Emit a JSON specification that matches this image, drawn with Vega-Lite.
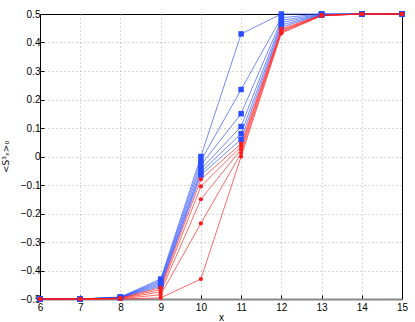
{
  "$schema": "https://vega.github.io/schema/vega-lite/v6.json",
  "width": 362,
  "height": 285,
  "autosize": "none",
  "padding": {"left": 40, "top": 14, "right": 13, "bottom": 23},
  "config": {
    "font": "Liberation Sans",
    "view": {"stroke": "black", "strokeWidth": 1},
    "axis": {
      "labelFont": "Liberation Sans",
      "titleFont": "Liberation Sans",
      "labelFontSize": 10,
      "titleFontSize": 10,
      "titleFontWeight": "normal",
      "labelColor": "#000",
      "titleColor": "#000",
      "gridColor": "#b0b0b0",
      "gridDash": [1, 3],
      "gridWidth": 1,
      "tickColor": "#000",
      "tickSize": -4,
      "domainColor": "#000"
    }
  },
  "data": {
    "values": [
      {"s": "B1", "f": "blue", "x": 6, "y": -0.5}, {"s": "B1", "f": "blue", "x": 7, "y": -0.5}, {"s": "B1", "f": "blue", "x": 8, "y": -0.493}, {"s": "B1", "f": "blue", "x": 9, "y": -0.43}, {"s": "B1", "f": "blue", "x": 10, "y": 0.0}, {"s": "B1", "f": "blue", "x": 11, "y": 0.43}, {"s": "B1", "f": "blue", "x": 12, "y": 0.5}, {"s": "B1", "f": "blue", "x": 13, "y": 0.5}, {"s": "B1", "f": "blue", "x": 14, "y": 0.5}, {"s": "B1", "f": "blue", "x": 15, "y": 0.5},
      {"s": "B2", "f": "blue", "x": 6, "y": -0.5}, {"s": "B2", "f": "blue", "x": 7, "y": -0.5}, {"s": "B2", "f": "blue", "x": 8, "y": -0.494}, {"s": "B2", "f": "blue", "x": 9, "y": -0.435}, {"s": "B2", "f": "blue", "x": 10, "y": -0.015}, {"s": "B2", "f": "blue", "x": 11, "y": 0.235}, {"s": "B2", "f": "blue", "x": 12, "y": 0.487}, {"s": "B2", "f": "blue", "x": 13, "y": 0.5}, {"s": "B2", "f": "blue", "x": 14, "y": 0.5}, {"s": "B2", "f": "blue", "x": 15, "y": 0.5},
      {"s": "B3", "f": "blue", "x": 6, "y": -0.5}, {"s": "B3", "f": "blue", "x": 7, "y": -0.5}, {"s": "B3", "f": "blue", "x": 8, "y": -0.494}, {"s": "B3", "f": "blue", "x": 9, "y": -0.44}, {"s": "B3", "f": "blue", "x": 10, "y": -0.03}, {"s": "B3", "f": "blue", "x": 11, "y": 0.15}, {"s": "B3", "f": "blue", "x": 12, "y": 0.478}, {"s": "B3", "f": "blue", "x": 13, "y": 0.499}, {"s": "B3", "f": "blue", "x": 14, "y": 0.5}, {"s": "B3", "f": "blue", "x": 15, "y": 0.5},
      {"s": "B4", "f": "blue", "x": 6, "y": -0.5}, {"s": "B4", "f": "blue", "x": 7, "y": -0.5}, {"s": "B4", "f": "blue", "x": 8, "y": -0.495}, {"s": "B4", "f": "blue", "x": 9, "y": -0.445}, {"s": "B4", "f": "blue", "x": 10, "y": -0.045}, {"s": "B4", "f": "blue", "x": 11, "y": 0.105}, {"s": "B4", "f": "blue", "x": 12, "y": 0.47}, {"s": "B4", "f": "blue", "x": 13, "y": 0.498}, {"s": "B4", "f": "blue", "x": 14, "y": 0.5}, {"s": "B4", "f": "blue", "x": 15, "y": 0.5},
      {"s": "B5", "f": "blue", "x": 6, "y": -0.5}, {"s": "B5", "f": "blue", "x": 7, "y": -0.5}, {"s": "B5", "f": "blue", "x": 8, "y": -0.495}, {"s": "B5", "f": "blue", "x": 9, "y": -0.45}, {"s": "B5", "f": "blue", "x": 10, "y": -0.055}, {"s": "B5", "f": "blue", "x": 11, "y": 0.08}, {"s": "B5", "f": "blue", "x": 12, "y": 0.462}, {"s": "B5", "f": "blue", "x": 13, "y": 0.497}, {"s": "B5", "f": "blue", "x": 14, "y": 0.5}, {"s": "B5", "f": "blue", "x": 15, "y": 0.5},
      {"s": "B6", "f": "blue", "x": 6, "y": -0.5}, {"s": "B6", "f": "blue", "x": 7, "y": -0.5}, {"s": "B6", "f": "blue", "x": 8, "y": -0.496}, {"s": "B6", "f": "blue", "x": 9, "y": -0.455}, {"s": "B6", "f": "blue", "x": 10, "y": -0.065}, {"s": "B6", "f": "blue", "x": 11, "y": 0.06}, {"s": "B6", "f": "blue", "x": 12, "y": 0.455}, {"s": "B6", "f": "blue", "x": 13, "y": 0.496}, {"s": "B6", "f": "blue", "x": 14, "y": 0.5}, {"s": "B6", "f": "blue", "x": 15, "y": 0.5},
      {"s": "R1", "f": "red", "x": 6, "y": -0.5}, {"s": "R1", "f": "red", "x": 7, "y": -0.5}, {"s": "R1", "f": "red", "x": 8, "y": -0.497}, {"s": "R1", "f": "red", "x": 9, "y": -0.46}, {"s": "R1", "f": "red", "x": 10, "y": -0.08}, {"s": "R1", "f": "red", "x": 11, "y": 0.045}, {"s": "R1", "f": "red", "x": 12, "y": 0.448}, {"s": "R1", "f": "red", "x": 13, "y": 0.496}, {"s": "R1", "f": "red", "x": 14, "y": 0.5}, {"s": "R1", "f": "red", "x": 15, "y": 0.5},
      {"s": "R2", "f": "red", "x": 6, "y": -0.5}, {"s": "R2", "f": "red", "x": 7, "y": -0.5}, {"s": "R2", "f": "red", "x": 8, "y": -0.497}, {"s": "R2", "f": "red", "x": 9, "y": -0.467}, {"s": "R2", "f": "red", "x": 10, "y": -0.105}, {"s": "R2", "f": "red", "x": 11, "y": 0.035}, {"s": "R2", "f": "red", "x": 12, "y": 0.444}, {"s": "R2", "f": "red", "x": 13, "y": 0.495}, {"s": "R2", "f": "red", "x": 14, "y": 0.5}, {"s": "R2", "f": "red", "x": 15, "y": 0.5},
      {"s": "R3", "f": "red", "x": 6, "y": -0.5}, {"s": "R3", "f": "red", "x": 7, "y": -0.5}, {"s": "R3", "f": "red", "x": 8, "y": -0.498}, {"s": "R3", "f": "red", "x": 9, "y": -0.475}, {"s": "R3", "f": "red", "x": 10, "y": -0.15}, {"s": "R3", "f": "red", "x": 11, "y": 0.025}, {"s": "R3", "f": "red", "x": 12, "y": 0.44}, {"s": "R3", "f": "red", "x": 13, "y": 0.495}, {"s": "R3", "f": "red", "x": 14, "y": 0.5}, {"s": "R3", "f": "red", "x": 15, "y": 0.5},
      {"s": "R4", "f": "red", "x": 6, "y": -0.5}, {"s": "R4", "f": "red", "x": 7, "y": -0.5}, {"s": "R4", "f": "red", "x": 8, "y": -0.499}, {"s": "R4", "f": "red", "x": 9, "y": -0.485}, {"s": "R4", "f": "red", "x": 10, "y": -0.235}, {"s": "R4", "f": "red", "x": 11, "y": 0.012}, {"s": "R4", "f": "red", "x": 12, "y": 0.436}, {"s": "R4", "f": "red", "x": 13, "y": 0.494}, {"s": "R4", "f": "red", "x": 14, "y": 0.5}, {"s": "R4", "f": "red", "x": 15, "y": 0.5},
      {"s": "R5", "f": "red", "x": 6, "y": -0.5}, {"s": "R5", "f": "red", "x": 7, "y": -0.5}, {"s": "R5", "f": "red", "x": 8, "y": -0.5}, {"s": "R5", "f": "red", "x": 9, "y": -0.496}, {"s": "R5", "f": "red", "x": 10, "y": -0.43}, {"s": "R5", "f": "red", "x": 11, "y": 0.0}, {"s": "R5", "f": "red", "x": 12, "y": 0.432}, {"s": "R5", "f": "red", "x": 13, "y": 0.494}, {"s": "R5", "f": "red", "x": 14, "y": 0.5}, {"s": "R5", "f": "red", "x": 15, "y": 0.5}
    ]
  },
  "encoding": {
    "x": {
      "field": "x", "type": "quantitative",
      "scale": {"domain": [6, 15], "nice": false, "zero": false},
      "axis": {"values": [6, 7, 8, 9, 10, 11, 12, 13, 14, 15], "title": "x", "grid": true, "domainColor": "#888", "domainWidth": 2, "labelPadding": 7, "titlePadding": 0, "labelFlush": false, "labelOverlap": false,
        "gridOpacity": {"condition": {"test": "datum.value == 6 || datum.value == 15", "value": 0}, "value": 1}}
    },
    "y": {
      "field": "y", "type": "quantitative",
      "scale": {"domain": [-0.5, 0.5], "nice": false, "zero": false},
      "axis": {"values": [-0.5, -0.4, -0.3, -0.2, -0.1, 0, 0.1, 0.2, 0.3, 0.4, 0.5], "labelExpr": "datum.value == 0 ? '0' : format(datum.value, '.1f')", "title": "<S³ₓ>₀", "titleFont": "DejaVu Sans", "titleFontSize": 9, "grid": true, "labelPadding": 4, "titlePadding": 10, "labelFlush": false, "labelOverlap": false,
        "gridOpacity": {"condition": {"test": "datum.value == 0.5 || datum.value == -0.5", "value": 0}, "value": 1}}
    }
  },
  "layer": [
    {
      "mark": {"type": "line", "strokeWidth": 1, "opacity": 0.65},
      "encoding": {
        "detail": {"field": "s"},
        "color": {"field": "f", "type": "nominal", "scale": {"domain": ["blue", "red"], "range": ["#2a4dff", "#ff1a1a"]}, "legend": null}
      }
    },
    {
      "mark": {"type": "point", "filled": true, "opacity": 1},
      "encoding": {
        "color": {"field": "f", "type": "nominal", "scale": {"domain": ["blue", "red"], "range": ["#1f45ff", "#ff0000"]}, "legend": null},
        "shape": {"field": "f", "type": "nominal", "scale": {"domain": ["blue", "red"], "range": ["square", "circle"]}, "legend": null},
        "size": {"field": "f", "type": "nominal", "scale": {"domain": ["blue", "red"], "range": [30, 18]}, "legend": null}
      }
    }
  ]
}
